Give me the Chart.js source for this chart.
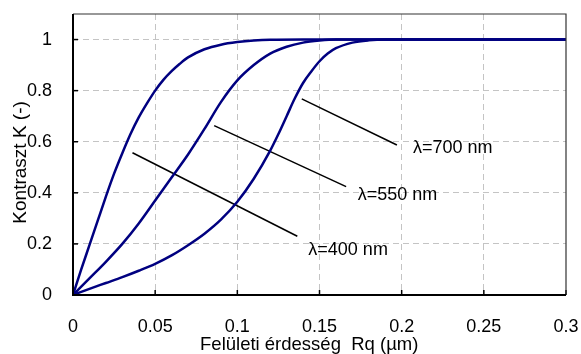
<!DOCTYPE html>
<html>
<head>
<meta charset="utf-8">
<script src="https://cdn.jsdelivr.net/npm/chart.js@4.4.1/dist/chart.umd.min.js"></script>
<style>
  html, body { margin: 0; padding: 0; background: #fff; }
  #wrap { width: 581px; height: 354px; }
</style>
</head>
<body>
<div id="wrap"><canvas id="chart" width="581" height="354"></canvas></div>
<script>
// Contrast K vs. surface roughness Rq (um)
const rq400 = [0, 0.005, 0.01, 0.015, 0.02, 0.025, 0.03, 0.035, 0.04, 0.045, 0.05, 0.055, 0.06, 0.065, 0.07, 0.08, 0.09, 0.1, 0.11, 0.12, 0.14, 0.3];
const k400 = [0, 0.1, 0.195, 0.29, 0.385, 0.475, 0.555, 0.63, 0.695, 0.75, 0.8, 0.842, 0.876, 0.905, 0.93, 0.962, 0.98, 0.99, 0.996, 0.999, 1, 1];

const rq550 = [0, 0.01, 0.02, 0.03, 0.04, 0.05, 0.06, 0.07, 0.08, 0.09, 0.1, 0.11, 0.12, 0.13, 0.14, 0.15, 0.16, 0.3];
const k550 = [0, 0.065, 0.13, 0.2, 0.28, 0.37, 0.46, 0.55, 0.65, 0.755, 0.84, 0.9, 0.945, 0.972, 0.988, 0.996, 1, 1];

const rq700 = [0, 0.01, 0.02, 0.03, 0.04, 0.05, 0.06, 0.07, 0.08, 0.09, 0.1, 0.11, 0.12, 0.125, 0.13, 0.135, 0.14, 0.145, 0.15, 0.155, 0.16, 0.17, 0.18, 0.19, 0.3];
const k700 = [0, 0.024, 0.047, 0.07, 0.095, 0.122, 0.155, 0.195, 0.24, 0.295, 0.365, 0.455, 0.565, 0.63, 0.7, 0.77, 0.83, 0.875, 0.915, 0.945, 0.966, 0.988, 0.997, 1, 1];

// leader lines (start near a curve, end at its label)
const lead400X = [0.0362, 0.1365];
const lead400Y = [0.557, 0.23];
const lead550X = [0.0859, 0.1662];
const lead550Y = [0.663, 0.424];
const lead700X = [0.1392, 0.1971];
const lead700Y = [0.768, 0.587];

const labelText = ["λ=400 nm", "λ=550 nm", "λ=700 nm"];
const labelX = [0.1432, 0.1733, 0.2069];
const labelY = [0.175, 0.391, 0.574];

const xTicks = [0, 0.05, 0.1, 0.15, 0.2, 0.25, 0.3];
const yTicks = [0, 0.2, 0.4, 0.6, 0.8, 1];

const FONT = "'Liberation Sans', Arial, sans-serif";
const SIZE = 18;
const CURVE = "#000080";
const NBSP = "\u00a0";

const pts = (xs, ys) => xs.map((x, i) => ({ x: x, y: ys[i] }));

const curve = (xs, ys) => ({
  data: pts(xs, ys),
  borderColor: CURVE,
  borderWidth: 2.5,
  pointRadius: 0,
  cubicInterpolationMode: "monotone",
  fill: false,
});

const leader = (xs, ys) => ({
  data: pts(xs, ys),
  borderColor: "#000",
  borderWidth: 1.5,
  pointRadius: 0,
  tension: 0,
  fill: false,
});

// frame, inward tick marks and the lambda labels
const extras = {
  id: "extras",
  afterDatasetsDraw(chart) {
    const { ctx, chartArea: a, scales: { x, y } } = chart;
    ctx.save();
    ctx.strokeStyle = "#000";
    ctx.lineWidth = 1.5;
    xTicks.forEach((v) => {
      const px = x.getPixelForValue(v);
      ctx.beginPath();
      ctx.moveTo(px, a.bottom);
      ctx.lineTo(px, a.bottom - 5);
      ctx.stroke();
    });
    yTicks.forEach((v) => {
      const py = y.getPixelForValue(v);
      ctx.beginPath();
      ctx.moveTo(a.left, py);
      ctx.lineTo(a.left + 5, py);
      ctx.stroke();
    });
    ctx.strokeStyle = "#333";
    ctx.lineWidth = 1.2;
    ctx.beginPath();
    ctx.moveTo(a.left, a.top);
    ctx.lineTo(a.right, a.top);
    ctx.lineTo(a.right, a.bottom);
    ctx.stroke();
    ctx.strokeStyle = "#000";
    ctx.lineWidth = 2;
    ctx.beginPath();
    ctx.moveTo(a.left, a.top);
    ctx.lineTo(a.left, a.bottom);
    ctx.lineTo(a.right, a.bottom);
    ctx.stroke();

    ctx.fillStyle = "#000";
    ctx.font = SIZE + "px " + FONT;
    ctx.textAlign = "left";
    ctx.textBaseline = "middle";
    labelText.forEach((t, i) => {
      ctx.fillText(t, x.getPixelForValue(labelX[i]), y.getPixelForValue(labelY[i]));
    });
    ctx.restore();
  },
};

new Chart(document.getElementById("chart"), {
  type: "line",
  data: {
    datasets: [
      curve(rq400, k400),
      curve(rq550, k550),
      curve(rq700, k700),
      leader(lead400X, lead400Y),
      leader(lead550X, lead550Y),
      leader(lead700X, lead700Y),
    ],
  },
  options: {
    responsive: false,
    animation: false,
    layout: { padding: { top: 14, right: 15, left: 0, bottom: 0 } },
    plugins: { legend: { display: false }, tooltip: { enabled: false } },
    scales: {
      x: {
        type: "linear",
        min: 0,
        max: 0.3,
        afterBuildTicks: (s) => { s.ticks = xTicks.map((v) => ({ value: v })); },
        afterFit: (s) => {
          s.height = 59;
          s.paddingLeft = 0;
          s.paddingRight = 0;
        },
        grid: {
          drawTicks: false,
          lineWidth: 1,
          color: (c) => (c.tick && (c.tick.value === 0 || c.tick.value === 0.3) ? "rgba(0,0,0,0)" : "#c4c4c4"),
        },
        border: { display: false, dash: [6, 4] },
        ticks: {
          padding: 21,
          color: "#000",
          font: { family: FONT, size: SIZE },
          callback: (v) => String(+v.toFixed(2)),
        },
        title: {
          display: true,
          // trailing spaces nudge the title a little left of centre, as in the original
          text: "Felületi érdesség  Rq (µm)" + NBSP.repeat(4),
          color: "#000",
          font: { family: FONT, size: 18.5, lineHeight: 1 },
          padding: { top: 0, bottom: 0 },
        },
      },
      y: {
        min: 0,
        max: 1.1,
        afterBuildTicks: (s) => { s.ticks = yTicks.map((v) => ({ value: v })); },
        afterFit: (s) => {
          s.width = 73;
          s.paddingTop = 0;
          s.paddingBottom = 0;
        },
        grid: {
          drawTicks: false,
          lineWidth: 1,
          color: (c) => (c.tick && c.tick.value === 0 ? "rgba(0,0,0,0)" : "#c4c4c4"),
        },
        border: { display: false, dash: [6, 4] },
        ticks: {
          padding: 21,
          color: "#000",
          font: { family: FONT, size: SIZE },
          callback: (v) => String(+v.toFixed(2)),
        },
        title: {
          display: true,
          text: "Kontraszt K (-)" + NBSP.repeat(3),
          color: "#000",
          font: { family: FONT, size: 19, lineHeight: 1.1 },
          padding: { top: 10, bottom: 0 },
        },
      },
    },
  },
  plugins: [extras],
});
</script>
</body>
</html>
